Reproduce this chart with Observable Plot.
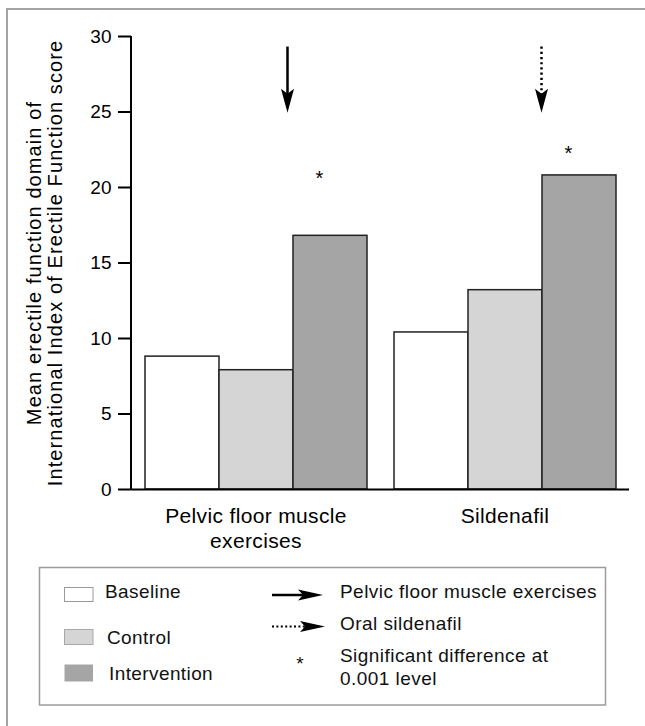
<!DOCTYPE html>
<html>
<head>
<meta charset="utf-8">
<script src="https://cdn.jsdelivr.net/npm/d3@7"></script>
<script src="https://cdn.jsdelivr.net/npm/@observablehq/plot@0.6"></script>
<style>
html, body { margin: 0; padding: 0; background: #fff; overflow: hidden; width: 645px; height: 726px; }
#wrap { position: relative; width: 645px; height: 726px; overflow: hidden; font-family: "Liberation Sans", Arial, Helvetica, sans-serif; }
#frame { position: absolute; left: 6px; top: 8px; width: 639px; height: 718px; box-sizing: border-box; border-top: 2px solid #a3a3a3; border-left: 2px solid #a3a3a3; border-right: 0; border-bottom: 0; pointer-events: none; }
#wrap svg { display: block; }
</style>
</head>
<body>
<div id="wrap"><div id="frame"></div></div>
<script>
// ---- data ----
const groups = ["Pelvic floor muscle exercises", "Sildenafil"];
const groupLabels = ["Pelvic floor muscle\nexercises", "Sildenafil"];
const series = ["Baseline", "Control", "Intervention"];
const pelvicValues = [8.8, 7.9, 16.8];
const sildenafilValues = [10.4, 13.2, 20.8];
const yTicks = [0, 5, 10, 15, 20, 25, 30];
const yLabel = "Mean erectile function domain of\nInternational Index of Erectile Function score";
const arrowGroups = ["Pelvic floor muscle exercises", "Sildenafil"];
const arrowFrom = [29.3, 29.3];
const arrowTo = [24.95, 24.95];
const starGroups = ["Pelvic floor muscle exercises", "Sildenafil"];
const starY = [20.9, 22.6];
const legendSeries = ["Baseline", "Control", "Intervention"];
const legendArrowLabels = ["Pelvic floor muscle exercises", "Oral sildenafil"];
const legendStarLabel = ["Significant difference at", "0.001 level"];

const valuesByGroup = [pelvicValues, sildenafilValues];
const table = groups.flatMap((g, gi) => series.map((s, si) => ({group: g, series: s, value: valuesByGroup[gi][si]})));
const arrows = arrowGroups.map((g, i) => ({group: g, from: arrowFrom[i], to: arrowTo[i]}));
const stars = starGroups.map((g, i) => ({group: g, y: starY[i]}));

const font = '"Liberation Sans", Arial, Helvetica, sans-serif';
const fills = ["#ffffff", "#d5d5d5", "#a5a5a5"];

// barbed arrow head, tip at origin, pointing down
const arrowDown = {draw(ctx) { ctx.moveTo(0, 0); ctx.lineTo(-6.5, -24); ctx.lineTo(0, -19); ctx.lineTo(6.5, -24); ctx.closePath(); }};

const plot = Plot.plot({
  width: 645,
  height: 560,
  marginLeft: 130,
  marginRight: 16,
  marginTop: 36,
  marginBottom: 71,
  style: {fontFamily: font, color: "#000", background: "transparent", overflow: "visible"},
  fx: {domain: groups, padding: 0, axis: null, label: null},
  x: {domain: series, padding: 0, insetLeft: 13, insetRight: 13, axis: null},
  y: {domain: [0, 30], label: null},
  color: {domain: series, range: fills},
  marks: [
    Plot.barY(table, {fx: "group", x: "series", y: "value", fill: "series", stroke: "#222", strokeWidth: 1.5}),
    Plot.ruleY([0], {stroke: "#000", strokeWidth: 2}),
    Plot.axisY(yTicks, {tickSize: 13, tickPadding: 7, fontSize: 19, strokeWidth: 2, label: null}),
    Plot.text([{group: groups[0], text: yLabel}], {
      fx: "group", text: "text", frameAnchor: "left", rotate: -90, dx: -87,
      fontSize: 20, lineHeight: 1.08, textAnchor: "middle", lineAnchor: "middle"
    }),
    Plot.text(groups, {fx: d => d, text: (d, i) => groupLabels[i], frameAnchor: "bottom", lineAnchor: "top", dy: 16, fontSize: 21, lineHeight: 1.17}),
    // arrows
    Plot.ruleX([arrows[0]], {fx: "group", x: () => "Intervention", y1: "from", y2: "to", dx: -43, stroke: "#000", strokeWidth: 2.5, insetBottom: 14}),
    Plot.dot([arrows[0]], {fx: "group", x: () => "Intervention", y: "to", dx: -43, symbol: arrowDown, fill: "#000", stroke: "none"}),
    Plot.ruleX([arrows[1]], {fx: "group", x: () => "Intervention", y1: "from", y2: "to", dx: -38, stroke: "#000", strokeWidth: 2.5, strokeDasharray: "2.2,3", insetBottom: 14}),
    Plot.dot([arrows[1]], {fx: "group", x: () => "Intervention", y: "to", dx: -38, symbol: arrowDown, fill: "#000", stroke: "none"}),
    // significance stars
    Plot.text(stars, {fx: "group", x: () => "Intervention", y: "y", text: () => "*", dx: -11, dy: 5, fontSize: 20})
  ]
});

const wrap = document.getElementById("wrap");
wrap.insertBefore(plot, document.getElementById("frame"));

// y-axis domain line, positioned with the plot's own scales
const ys = plot.scale("y");
const fxs = plot.scale("fx");
const x0 = fxs.apply(groups[0]);
d3.select(plot).append("line")
  .attr("x1", x0).attr("x2", x0)
  .attr("y1", ys.apply(0) + 1).attr("y2", ys.apply(30))
  .attr("stroke", "#000").attr("stroke-width", 2);
d3.select(plot).selectAll("text").filter(function() { return this.textContent.startsWith("Mean erectile"); })
  .style("letter-spacing", "1.1px");
d3.select(plot).selectAll("text").filter(function() { return this.textContent.startsWith("Pelvic") || this.textContent === "Sildenafil"; })
  .style("letter-spacing", "0.35px");

// ---- legend (below the chart SVG) ----
const lg = d3.create("svg").attr("width", 645).attr("height", 166)
  .style("display", "block").style("font-family", font);
lg.append("rect").attr("x", 39.5).attr("y", 7.5).attr("width", 566).attr("height", 137.5)
  .attr("fill", "none").attr("stroke", "#9c9c9c").attr("stroke-width", 1.5);

const swatchY = [27, 69, 104];
const swatchH = [14, 15, 17];
const swatchStroke = ["#9a9a9a", "#a8a8a8", "none"];
const textX = [105, 107, 109];
const textBase = [38, 84, 120];
legendSeries.forEach((s, i) => {
  lg.append("rect").attr("x", 64.5).attr("y", swatchY[i] + 0.5).attr("width", 28.5).attr("height", swatchH[i])
    .attr("fill", fills[i]).attr("stroke", swatchStroke[i]).attr("stroke-width", 1);
  lg.append("text").attr("x", textX[i]).attr("y", textBase[i]).attr("font-size", 19)
    .style("letter-spacing", "0.4px").attr("fill", "#111").text(s);
});

// arrows
function hArrow(y, tip, dashed) {
  lg.append("line").attr("x1", 272).attr("x2", tip - 20).attr("y1", y).attr("y2", y)
    .attr("stroke", "#000").attr("stroke-width", dashed ? 2 : 2.5)
    .attr("stroke-dasharray", dashed ? "2,2.4" : null);
  lg.append("path").attr("d", `M${tip},${y}L${tip - 25},${y - 5.5}L${tip - 20},${y}L${tip - 25},${y + 5.5}Z`).attr("fill", "#000");
}
hArrow(35, 323, false);
hArrow(66.5, 325, true);
lg.append("text").attr("x", 300).attr("y", 110).attr("text-anchor", "middle").attr("font-size", 19).attr("fill", "#111").text("*");

const rBase = [38, 70, 102, 125];
const rText = [legendArrowLabels[0], legendArrowLabels[1], legendStarLabel[0], legendStarLabel[1]];
rText.forEach((t, i) => {
  lg.append("text").attr("x", 340).attr("y", rBase[i]).attr("font-size", 19)
    .style("letter-spacing", "0.45px").attr("fill", "#111").text(t);
});
wrap.insertBefore(lg.node(), document.getElementById("frame"));
</script>
</body>
</html>
